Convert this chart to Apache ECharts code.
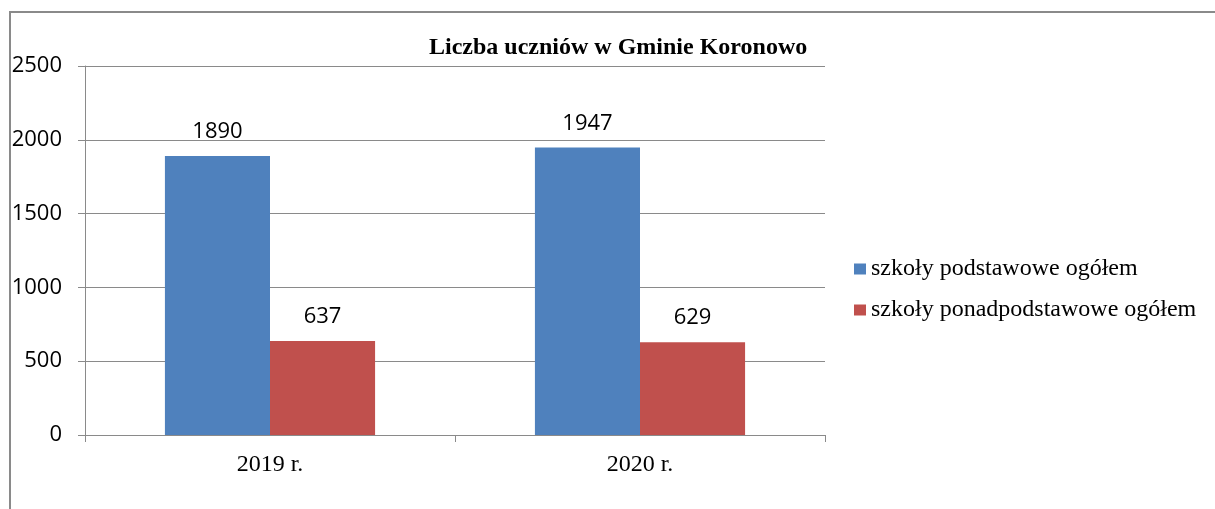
<!DOCTYPE html>
<html>
<head>
<meta charset="utf-8">
<script src="https://cdn.jsdelivr.net/npm/echarts@6/dist/echarts.min.js"></script>
<style>
  html, body { margin: 0; padding: 0; background: #fff; }
  #frame { position: absolute; left: 9px; top: 11px; width: 1206px; height: 498px;
           border-left: 2px solid #8a8a8a; border-top: 2px solid #8a8a8a; }
  #main { position: absolute; left: 0; top: 0; width: 1215px; height: 509px; }
</style>
</head>
<body>
<div id="frame"></div>
<div id="main"></div>
<script>
const years = ["2019 r.", "2020 r."];
const primary = [1890, 1947];
const secondary = [637, 629];
const primaryName = "szkoły podstawowe ogółem";
const secondaryName = "szkoły ponadpodstawowe ogółem";

const chart = echarts.init(document.getElementById("main"));

const labelStyle = {
  show: true,
  position: "top",
  distance: 13,
  fontFamily: "Open Sans",
  fontSize: 22,
  color: "#000",
};

chart.setOption({
  animation: false,
  color: ["#4F81BD", "#C0504D"],
  title: {
    text: "Liczba uczniów w Gminie Koronowo",
    left: 424,
    top: 31,
    textStyle: {
      fontFamily: "Liberation Serif",
      fontWeight: "bold",
      fontSize: 24,
      color: "#000",
    },
  },
  legend: {
    data: [primaryName, secondaryName],
    orient: "vertical",
    left: 849,
    top: 252,
    itemWidth: 12,
    itemHeight: 11,
    itemGap: 17,
    icon: "rect",
    textStyle: {
      fontFamily: "Liberation Serif",
      fontSize: 24,
      color: "#000",
    },
  },
  grid: { left: 85, right: 390, top: 66, bottom: 74 },
  xAxis: {
    type: "category",
    data: years,
    axisLine: { lineStyle: { color: "#8a8a8a", width: 1 } },
    axisTick: { show: true, length: 7, lineStyle: { color: "#8a8a8a" } },
    axisLabel: {
      margin: 18,
      fontFamily: "Liberation Serif",
      fontSize: 24,
      color: "#000",
    },
  },
  yAxis: {
    type: "value",
    min: 0,
    max: 2500,
    interval: 500,
    axisLine: { show: true, lineStyle: { color: "#8a8a8a", width: 1 } },
    axisTick: { show: true, length: 7, lineStyle: { color: "#8a8a8a" } },
    splitLine: { lineStyle: { color: "#8a8a8a", width: 1 } },
    axisLabel: {
      margin: 23,
      fontFamily: "Open Sans",
      fontSize: 22,
      color: "#000",
      formatter: (v) => String(v),
    },
  },
  series: [
    {
      name: primaryName,
      type: "bar",
      data: primary,
      barWidth: "28.4%",
      barGap: "0%",
      label: labelStyle,
    },
    {
      name: secondaryName,
      type: "bar",
      data: secondary,
      barWidth: "28.4%",
      label: labelStyle,
    },
  ],
});
</script>
</body>
</html>
